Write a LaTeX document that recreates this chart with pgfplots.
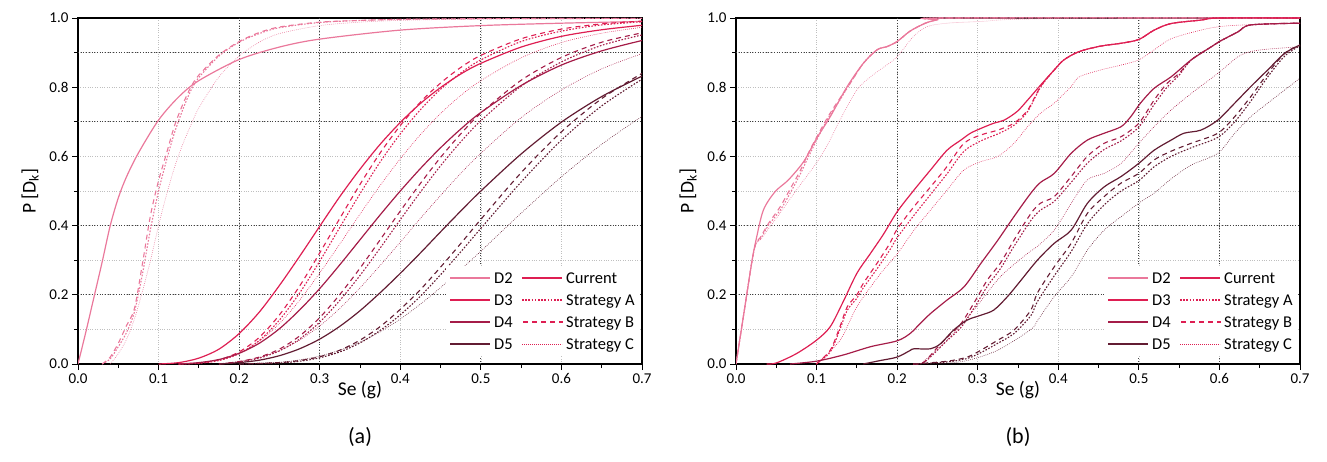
\documentclass[border=0pt]{standalone}
\usepackage{fontspec}
\setmainfont{Carlito}
\usepackage{pgfplots}
\pgfplotsset{compat=1.18}
\definecolor{cB}{RGB}{234,120,155}
\definecolor{cC}{RGB}{222,30,82}
\definecolor{cD}{RGB}{165,28,72}
\definecolor{cE}{RGB}{98,28,50}
\definecolor{txt}{RGB}{40,40,40}
\pgfplotsset{
  cur/.style={solid, line width=1.2pt, smooth, line join=round},
  sa/.style={line width=1.1pt, dash pattern=on 1.6pt off 1.6pt, smooth},
  sb/.style={line width=1.1pt, dash pattern=on 5pt off 4pt, smooth},
  sc/.style={line width=0.6pt, dash pattern=on 0.7pt off 1.3pt, smooth},
  fr/.style={
    width=564pt, height=346pt, scale only axis,
    xmin=0, xmax=0.7, ymin=0, ymax=1,
    xtick={0,0.1,0.2,0.3,0.4,0.5,0.6,0.7},
    minor xtick={0.05,0.15,0.25,0.35,0.45,0.55,0.65},
    ytick={0,0.2,0.4,0.6,0.8,1},
    minor ytick={0.1,0.3,0.5,0.7,0.9},
    tick align=outside, tick pos=left,
    major tick length=6pt, minor tick length=4pt,
    every tick/.style={black, line width=0.9pt},
    axis line style={line width=1.5pt},
    xmajorgrids, ymajorgrids, yminorgrids,
    major grid style={gray!50, dotted, line width=0.7pt},
    minor grid style={gray!50, dotted, line width=0.7pt},
    /pgf/number format/.cd, fixed, fixed zerofill, precision=1, assume math mode=true,
    /pgfplots/.cd,
    tick label style={font=\fontsize{15}{17}\selectfont},
    label style={font=\fontsize{19.5}{21}\selectfont},
    xlabel={Se (g)},
    ylabel={P [D\textsubscript{k}]},
    xlabel style={at={(axis description cs:0.5,-0.075)}, anchor=center},
    ylabel style={at={(axis description cs:-0.085,0.5)}, anchor=center},
    no markers,
  }
}
% legend drawn beside the axis: lines first, then the texts
\newcommand{\legendbox}[1]{%
  \path[fill=white] ([xshift=-196pt,yshift=8pt]#1.south east) rectangle ([xshift=-2pt,yshift=98pt]#1.south east);
  \draw[cB, line width=1.2pt] ([xshift=-192pt,yshift=86pt]#1.south east) -- ++(40pt,0pt);
  \draw[cC, line width=1.2pt] ([xshift=-192pt,yshift=64pt]#1.south east) -- ++(40pt,0pt);
  \draw[cD, line width=1.2pt] ([xshift=-192pt,yshift=42pt]#1.south east) -- ++(40pt,0pt);
  \draw[cE, line width=1.2pt] ([xshift=-192pt,yshift=20pt]#1.south east) -- ++(40pt,0pt);
  \draw[cC, line width=1.6pt] ([xshift=-120pt,yshift=86pt]#1.south east) -- ++(40pt,0pt);
  \draw[cC, line width=1.1pt, dash pattern=on 1.6pt off 1.6pt] ([xshift=-120pt,yshift=64pt]#1.south east) -- ++(40pt,0pt);
  \draw[cC, line width=1.1pt, dash pattern=on 5pt off 4pt] ([xshift=-119pt,yshift=42pt]#1.south east) -- ++(40pt,0pt);
  \draw[cC, line width=0.6pt, dash pattern=on 0.7pt off 1.3pt] ([xshift=-120pt,yshift=20pt]#1.south east) -- ++(40pt,0pt);
  \begin{scope}[every node/.style={anchor=base west, inner sep=0pt, font=\fontsize{16.5}{18}\selectfont}]
  \node at ([xshift=-148pt,yshift=80.5pt]#1.south east) {D2};
  \node at ([xshift=-148pt,yshift=58.5pt]#1.south east) {D3};
  \node at ([xshift=-148pt,yshift=36.5pt]#1.south east) {D4};
  \node at ([xshift=-148pt,yshift=14.5pt]#1.south east) {D5};
  \node at ([xshift=-76pt,yshift=80.5pt]#1.south east) {Current};
  \node at ([xshift=-76pt,yshift=58.5pt]#1.south east) {Strategy A};
  \node at ([xshift=-76pt,yshift=36.5pt]#1.south east) {Strategy B};
  \node at ([xshift=-76pt,yshift=14.5pt]#1.south east) {Strategy C};
  \end{scope}
}
\begin{document}
\begin{tikzpicture}
\path[use as bounding box] (0pt,0pt) rectangle (1327pt,461pt);
% ---------------- (a) ----------------
\begin{axis}[fr, name=axa, at={(78pt,97pt)}, anchor=south west,
  extra x ticks={0.2,0.3,0.5}, extra x tick labels={},
  extra y ticks={0.2,0.4,0.7,0.9}, extra y tick labels={},
  extra tick style={major tick length=0pt, grid=major, major grid style={black!75, dotted, line width=0.9pt}}]
% D2
\addplot[cB, cur] coordinates {(0,0) (0.01,0.095) (0.02,0.195) (0.03,0.295) (0.04,0.40) (0.05,0.48) (0.06,0.54) (0.075,0.61) (0.1,0.705) (0.125,0.772) (0.15,0.819) (0.2,0.880) (0.25,0.916) (0.3,0.939) (0.4,0.965) (0.5,0.978) (0.6,0.985) (0.7,0.990)};
\addplot[cB, sa] coordinates {(0.03,0) (0.04,0.015) (0.05,0.05) (0.06,0.09) (0.07,0.15) (0.08,0.26) (0.09,0.39) (0.1,0.50) (0.11,0.59) (0.12,0.67) (0.13,0.735) (0.14,0.79) (0.15,0.828) (0.175,0.89) (0.2,0.93) (0.225,0.955) (0.25,0.972) (0.3,0.987) (0.35,0.993) (0.4,0.996) (0.5,0.998) (0.7,0.999)};
\addplot[cB, sb] coordinates {(0.03,0) (0.04,0.02) (0.05,0.06) (0.06,0.11) (0.07,0.16) (0.08,0.29) (0.09,0.43) (0.1,0.53) (0.11,0.61) (0.12,0.69) (0.13,0.75) (0.14,0.80) (0.15,0.835) (0.175,0.893) (0.2,0.932) (0.225,0.958) (0.25,0.974) (0.3,0.988) (0.35,0.993) (0.4,0.996) (0.5,0.998) (0.7,0.999)};
\addplot[cB, sc] coordinates {(0.04,0) (0.05,0.03) (0.06,0.07) (0.07,0.13) (0.08,0.21) (0.09,0.30) (0.1,0.40) (0.11,0.49) (0.12,0.57) (0.13,0.635) (0.14,0.69) (0.15,0.74) (0.175,0.83) (0.2,0.89) (0.225,0.93) (0.25,0.955) (0.3,0.978) (0.35,0.988) (0.4,0.993) (0.5,0.997) (0.7,0.999)};
% D3
\addplot[cC, cur] coordinates {(0.1,0) (0.125,0.004) (0.15,0.017) (0.175,0.043) (0.2,0.088) (0.225,0.150) (0.25,0.227) (0.275,0.311) (0.3,0.398) (0.325,0.484) (0.35,0.563) (0.375,0.635) (0.4,0.698) (0.425,0.753) (0.45,0.799) (0.475,0.838) (0.5,0.869) (0.55,0.916) (0.6,0.947) (0.65,0.966) (0.7,0.979)};
\addplot[cC, sa] coordinates {(0.125,0) (0.15,0.002) (0.175,0.010) (0.2,0.030) (0.225,0.068) (0.25,0.127) (0.275,0.205) (0.3,0.297) (0.325,0.395) (0.35,0.492) (0.375,0.584) (0.4,0.665) (0.425,0.735) (0.45,0.794) (0.475,0.841) (0.5,0.879) (0.55,0.932) (0.6,0.962) (0.65,0.980) (0.7,0.989)};
\addplot[cC, sb] coordinates {(0.125,0) (0.15,0.003) (0.175,0.012) (0.2,0.035) (0.225,0.077) (0.25,0.142) (0.275,0.225) (0.3,0.321) (0.325,0.421) (0.35,0.519) (0.375,0.610) (0.4,0.689) (0.425,0.757) (0.45,0.812) (0.475,0.857) (0.5,0.892) (0.55,0.940) (0.6,0.968) (0.65,0.983) (0.7,0.991)};
\addplot[cC, sc] coordinates {(0.125,0) (0.15,0.003) (0.175,0.012) (0.2,0.031) (0.225,0.066) (0.25,0.117) (0.275,0.184) (0.3,0.263) (0.325,0.347) (0.35,0.433) (0.375,0.516) (0.4,0.593) (0.425,0.663) (0.45,0.724) (0.475,0.776) (0.5,0.819) (0.55,0.885) (0.6,0.929) (0.65,0.956) (0.7,0.973)};
% D4
\addplot[cD, cur] coordinates {(0.125,0) (0.15,0.004) (0.175,0.013) (0.2,0.031) (0.225,0.060) (0.25,0.102) (0.275,0.156) (0.3,0.218) (0.325,0.287) (0.35,0.359) (0.375,0.431) (0.4,0.5) (0.425,0.565) (0.45,0.625) (0.475,0.679) (0.5,0.727) (0.55,0.805) (0.6,0.864) (0.65,0.905) (0.7,0.935)};
\addplot[cD, sa] coordinates {(0.175,0) (0.2,0.006) (0.225,0.017) (0.25,0.038) (0.275,0.072) (0.3,0.121) (0.325,0.184) (0.35,0.256) (0.375,0.335) (0.4,0.417) (0.425,0.497) (0.45,0.573) (0.475,0.642) (0.5,0.703) (0.55,0.803) (0.6,0.873) (0.65,0.921) (0.7,0.951)};
\addplot[cD, sb] coordinates {(0.175,0) (0.2,0.007) (0.225,0.020) (0.25,0.043) (0.275,0.081) (0.3,0.134) (0.325,0.201) (0.35,0.277) (0.375,0.359) (0.4,0.442) (0.425,0.522) (0.45,0.597) (0.475,0.665) (0.5,0.725) (0.55,0.820) (0.6,0.886) (0.65,0.930) (0.7,0.957)};
\addplot[cD, sc] coordinates {(0.175,0) (0.2,0.008) (0.225,0.019) (0.25,0.039) (0.275,0.069) (0.3,0.110) (0.325,0.161) (0.35,0.220) (0.375,0.285) (0.4,0.352) (0.425,0.421) (0.45,0.487) (0.475,0.551) (0.5,0.609) (0.55,0.712) (0.6,0.792) (0.65,0.853) (0.7,0.897)};
% D5
\addplot[cE, cur] coordinates {(0.175,0) (0.2,0.004) (0.225,0.011) (0.25,0.024) (0.275,0.044) (0.3,0.072) (0.325,0.109) (0.35,0.154) (0.375,0.206) (0.4,0.262) (0.425,0.321) (0.45,0.382) (0.475,0.442) (0.5,0.5) (0.55,0.607) (0.6,0.699) (0.65,0.773) (0.7,0.832)};
\addplot[cE, sa] coordinates {(0.2,0) (0.25,0.003) (0.275,0.008) (0.3,0.018) (0.325,0.035) (0.35,0.061) (0.375,0.097) (0.4,0.142) (0.425,0.196) (0.45,0.258) (0.475,0.324) (0.5,0.392) (0.55,0.526) (0.6,0.647) (0.65,0.746) (0.7,0.823)};
\addplot[cE, sb] coordinates {(0.2,0) (0.25,0.004) (0.275,0.010) (0.3,0.021) (0.325,0.040) (0.35,0.069) (0.375,0.108) (0.4,0.158) (0.425,0.215) (0.45,0.280) (0.475,0.348) (0.5,0.418) (0.55,0.553) (0.6,0.671) (0.65,0.767) (0.7,0.840)};
\addplot[cE, sc] coordinates {(0.2,0) (0.25,0.005) (0.275,0.012) (0.3,0.023) (0.325,0.040) (0.35,0.063) (0.375,0.093) (0.4,0.130) (0.425,0.173) (0.45,0.221) (0.475,0.273) (0.5,0.326) (0.55,0.436) (0.6,0.541) (0.65,0.635) (0.7,0.716)};
\end{axis}
% ---------------- (b) ----------------
\begin{axis}[fr, name=axb, at={(736pt,97pt)}, anchor=south west,
  extra x ticks={0.2,0.5,0.6}, extra x tick labels={},
  extra y ticks={0.2,0.4,0.7,0.9}, extra y tick labels={},
  extra tick style={major tick length=0pt, grid=major, major grid style={black!75, dotted, line width=0.9pt}}]
% D2
\addplot[cB, cur] coordinates {(0,0) (0.01,0.15) (0.02,0.30) (0.025,0.36) (0.034,0.445) (0.0485,0.498) (0.065,0.532) (0.084,0.585) (0.1,0.652) (0.117,0.715) (0.138,0.802) (0.158,0.869) (0.175,0.908) (0.187,0.917) (0.2,0.932) (0.216,0.962) (0.235,0.985) (0.25,0.995) (0.262,1.0) (0.7,1.0)};
\addplot[cB, sa] coordinates {(0,0) (0.01,0.15) (0.02,0.30) (0.025,0.35) (0.03,0.36) (0.04,0.40) (0.055,0.445) (0.067,0.493) (0.08,0.55) (0.092,0.609) (0.113,0.705) (0.129,0.763) (0.14,0.805) (0.158,0.869) (0.175,0.908) (0.187,0.917) (0.2,0.932) (0.216,0.962) (0.235,0.985) (0.25,0.995) (0.262,1.0) (0.7,1.0)};
\addplot[cB, sb] coordinates {(0,0) (0.01,0.15) (0.02,0.30) (0.025,0.35) (0.03,0.365) (0.04,0.405) (0.055,0.455) (0.067,0.505) (0.08,0.56) (0.092,0.62) (0.113,0.71) (0.129,0.768) (0.14,0.805) (0.158,0.869) (0.175,0.908) (0.187,0.917) (0.2,0.932) (0.216,0.962) (0.235,0.985) (0.25,0.995) (0.262,1.0) (0.7,1.0)};
\addplot[cB, sc] coordinates {(0,0) (0.01,0.15) (0.02,0.30) (0.025,0.35) (0.03,0.358) (0.04,0.39) (0.0547,0.436) (0.075,0.503) (0.0995,0.58) (0.115,0.64) (0.129,0.705) (0.15,0.792) (0.167,0.83) (0.187,0.864) (0.2,0.888) (0.22,0.946) (0.237,0.975) (0.262,0.985) (0.303,0.99) (0.345,0.996) (0.45,1.0) (0.7,1.0)};
% D3
\addplot[cC, cur] coordinates {(0.038,0) (0.05,0.003) (0.075,0.03) (0.1,0.069) (0.117,0.108) (0.133,0.18) (0.15,0.262) (0.167,0.32) (0.183,0.375) (0.2,0.44) (0.221,0.503) (0.2415,0.561) (0.262,0.618) (0.279,0.647) (0.291,0.667) (0.304,0.681) (0.32,0.696) (0.333,0.705) (0.349,0.73) (0.362,0.763) (0.378,0.806) (0.395,0.85) (0.407,0.879) (0.426,0.903) (0.453,0.919) (0.478,0.927) (0.5,0.938) (0.519,0.965) (0.54,0.984) (0.577,0.994) (0.6,1.0) (0.7,1.0)};
\addplot[cC, sa] coordinates {(0.0995,0) (0.117,0.035) (0.129,0.10) (0.138,0.155) (0.15,0.19) (0.158,0.22) (0.175,0.275) (0.191,0.33) (0.2,0.365) (0.221,0.43) (0.2415,0.49) (0.262,0.55) (0.283,0.615) (0.304,0.645) (0.325,0.665) (0.345,0.69) (0.362,0.73) (0.378,0.80) (0.395,0.85) (0.407,0.879) (0.426,0.903) (0.453,0.919) (0.478,0.927) (0.5,0.938) (0.519,0.965) (0.54,0.984) (0.577,0.994) (0.6,1.0) (0.7,1.0)};
\addplot[cC, sb] coordinates {(0.0995,0) (0.117,0.04) (0.129,0.108) (0.138,0.165) (0.15,0.2) (0.158,0.233) (0.175,0.291) (0.191,0.349) (0.2,0.39) (0.221,0.455) (0.2415,0.512) (0.262,0.571) (0.283,0.638) (0.304,0.662) (0.325,0.676) (0.345,0.696) (0.362,0.734) (0.378,0.802) (0.395,0.85) (0.407,0.879) (0.426,0.903) (0.453,0.919) (0.478,0.927) (0.5,0.938) (0.519,0.965) (0.54,0.984) (0.577,0.994) (0.6,1.0) (0.7,1.0)};
\addplot[cC, sc] coordinates {(0.0995,0) (0.129,0.068) (0.15,0.165) (0.179,0.26) (0.2,0.318) (0.221,0.387) (0.2415,0.445) (0.262,0.503) (0.283,0.561) (0.304,0.585) (0.325,0.6) (0.345,0.638) (0.362,0.686) (0.378,0.725) (0.395,0.754) (0.416,0.802) (0.426,0.83) (0.453,0.85) (0.478,0.864) (0.5,0.879) (0.519,0.908) (0.54,0.94) (0.577,0.965) (0.6,0.975) (0.631,0.98) (0.7,0.985)};
% D4
\addplot[cD, cur] coordinates {(0.067,0) (0.0995,0.008) (0.133,0.026) (0.167,0.05) (0.2,0.067) (0.216,0.088) (0.229,0.118) (0.2415,0.146) (0.262,0.185) (0.283,0.223) (0.304,0.291) (0.325,0.358) (0.345,0.426) (0.366,0.494) (0.378,0.525) (0.395,0.551) (0.416,0.609) (0.436,0.647) (0.457,0.667) (0.478,0.686) (0.49,0.715) (0.502,0.754) (0.519,0.797) (0.54,0.83) (0.565,0.879) (0.59,0.917) (0.6,0.932) (0.623,0.96) (0.639,0.98) (0.7,0.985)};
\addplot[cD, sa] coordinates {(0.22,0) (0.233,0.004) (0.25,0.04) (0.262,0.068) (0.279,0.105) (0.295,0.16) (0.312,0.225) (0.328,0.275) (0.345,0.34) (0.366,0.415) (0.378,0.445) (0.395,0.47) (0.416,0.525) (0.436,0.58) (0.457,0.62) (0.478,0.645) (0.5,0.685) (0.519,0.75) (0.535,0.80) (0.55,0.835) (0.565,0.879) (0.59,0.917) (0.6,0.932) (0.623,0.96) (0.639,0.98) (0.7,0.985)};
\addplot[cD, sb] coordinates {(0.22,0) (0.233,0.005) (0.25,0.048) (0.262,0.077) (0.279,0.116) (0.295,0.175) (0.312,0.243) (0.328,0.291) (0.345,0.358) (0.366,0.435) (0.378,0.465) (0.395,0.484) (0.416,0.542) (0.436,0.6) (0.457,0.638) (0.478,0.657) (0.5,0.696) (0.519,0.763) (0.535,0.811) (0.55,0.84) (0.565,0.879) (0.59,0.917) (0.6,0.932) (0.623,0.96) (0.639,0.98) (0.7,0.985)};
\addplot[cD, sc] coordinates {(0.229,0) (0.262,0.069) (0.295,0.156) (0.328,0.252) (0.362,0.32) (0.374,0.34) (0.395,0.387) (0.416,0.464) (0.436,0.532) (0.457,0.551) (0.478,0.58) (0.5,0.638) (0.519,0.686) (0.54,0.734) (0.565,0.782) (0.598,0.84) (0.623,0.888) (0.639,0.903) (0.66,0.91) (0.7,0.917)};
% D5
\addplot[cE, cur] coordinates {(0.158,0) (0.179,0.01) (0.2,0.02) (0.216,0.039) (0.221,0.044) (0.2415,0.044) (0.254,0.059) (0.27,0.098) (0.287,0.127) (0.304,0.141) (0.32,0.156) (0.337,0.195) (0.353,0.24) (0.374,0.30) (0.395,0.349) (0.416,0.387) (0.436,0.464) (0.457,0.512) (0.478,0.542) (0.5,0.58) (0.519,0.618) (0.54,0.647) (0.556,0.667) (0.577,0.676) (0.598,0.705) (0.619,0.754) (0.639,0.802) (0.66,0.85) (0.681,0.898) (0.7,0.922)};
\addplot[cE, sa] coordinates {(0.221,0) (0.262,0.006) (0.287,0.016) (0.304,0.033) (0.325,0.06) (0.345,0.088) (0.366,0.14) (0.374,0.18) (0.395,0.255) (0.416,0.325) (0.436,0.405) (0.457,0.46) (0.478,0.50) (0.5,0.53) (0.519,0.57) (0.54,0.60) (0.565,0.625) (0.598,0.655) (0.619,0.70) (0.639,0.76) (0.66,0.83) (0.681,0.89) (0.7,0.92)};
\addplot[cE, sb] coordinates {(0.221,0) (0.262,0.008) (0.287,0.02) (0.304,0.04) (0.325,0.069) (0.345,0.098) (0.366,0.156) (0.374,0.205) (0.395,0.281) (0.416,0.349) (0.436,0.435) (0.457,0.484) (0.478,0.523) (0.5,0.551) (0.519,0.59) (0.54,0.615) (0.565,0.638) (0.598,0.667) (0.619,0.715) (0.639,0.773) (0.66,0.84) (0.681,0.898) (0.7,0.922)};
\addplot[cE, sc] coordinates {(0.2415,0) (0.283,0.008) (0.325,0.04) (0.366,0.10) (0.374,0.125) (0.395,0.195) (0.416,0.252) (0.436,0.329) (0.457,0.387) (0.478,0.426) (0.5,0.465) (0.519,0.494) (0.54,0.535) (0.565,0.575) (0.598,0.609) (0.619,0.667) (0.639,0.715) (0.66,0.754) (0.681,0.792) (0.7,0.826)};
\end{axis}
\legendbox{axa}
\legendbox{axb}
\node[font=\fontsize{22}{24}\selectfont] at ([yshift=-73pt]axa.south) {(a)};
\node[font=\fontsize{22}{24}\selectfont] at ([yshift=-73pt]axb.south) {(b)};
\end{tikzpicture}
\end{document}
